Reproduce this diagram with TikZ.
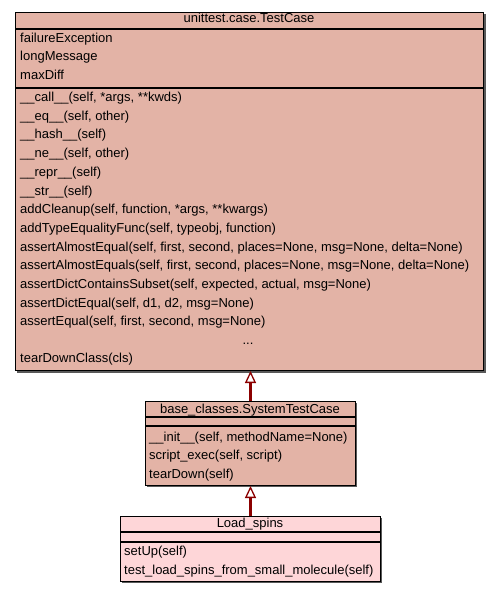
\documentclass[tikz,border=0pt]{standalone}
\usepackage{fontspec}
\setmainfont{Liberation Sans}
\usetikzlibrary{arrows.meta}
\definecolor{basefill}{RGB}{227,179,166}
\definecolor{leaffill}{RGB}{254,214,216}
\definecolor{edgered}{RGB}{139,0,0}
\tikzset{
  classbox/.style={draw=black, line width=1bp, minimum width=#1, inner sep=0, anchor=north west},
  shadowbox/.style={fill=black!65, draw=none},
  txt/.style={anchor=base west, inner sep=0, font=\fontsize{13bp}{15bp}\selectfont},
  ttl/.style={anchor=base, inner sep=0, font=\fontsize{13bp}{15bp}\selectfont},
  sep/.style={line width=1.2bp, black},
  inherit/.style={draw=edgered, line width=3bp, -{Triangle[open, length=12bp, width=11bp, line width=1.3bp, fill=white]}}
}
\begin{document}
\begin{tikzpicture}[x=1bp,y=-1bp]
\useasboundingbox (0,0) rectangle (499,592);
% shadows
\fill[shadowbox] (17,14) rectangle (486,373);
\fill[shadowbox] (147,403) rectangle (357,487);
\fill[shadowbox] (122,518) rectangle (382,583);
% boxes
\node[classbox=468bp, minimum height=358bp, fill=basefill] (tc) at (15,12) {};
\node[classbox=210bp, minimum height=84bp, fill=basefill] (stc) at (145,401) {};
\node[classbox=260bp, minimum height=65bp, fill=leaffill] (ls) at (120,516) {};
% separators
\draw[sep] (15,29) -- (483,29);
\draw[sep] (15,88) -- (483,88);
\draw[sep] (145,417) -- (355,417);
\draw[sep] (145,426) -- (355,426);
\draw[sep] (120,532) -- (380,532);
\draw[sep] (120,542) -- (380,542);
% TestCase texts
\node[ttl] (tct) at (249,22.5) {unittest.case.TestCase};
\node[txt] (a1) at (20,42.5) {failureException};
\node[txt] (a2) at (20,61) {longMessage};
\node[txt] (a3) at (20,79.5) {maxDiff};
\node[txt] (m1) at (20,101.5) {\_\_call\_\_(self, *args, **kwds)};
\node[txt] (m2) at (20,120.2) {\_\_eq\_\_(self, other)};
\node[txt] (m3) at (20,138.9) {\_\_hash\_\_(self)};
\node[txt] (m4) at (20,157.6) {\_\_ne\_\_(self, other)};
\node[txt] (m5) at (20,176.3) {\_\_repr\_\_(self)};
\node[txt] (m6) at (20,195.0) {\_\_str\_\_(self)};
\node[txt] (m7) at (20,213.7) {addCleanup(self, function, *args, **kwargs)};
\node[txt] (m8) at (20,232.4) {addTypeEqualityFunc(self, typeobj, function)};
\node[txt] (m9) at (20,251.1) {assertAlmostEqual(self, first, second, places=None, msg=None, delta=None)};
\node[txt] (m10) at (20,269.8) {assertAlmostEquals(self, first, second, places=None, msg=None, delta=None)};
\node[txt] (m11) at (20,288.5) {assertDictContainsSubset(self, expected, actual, msg=None)};
\node[txt] (m12) at (20,307.2) {assertDictEqual(self, d1, d2, msg=None)};
\node[txt] (m13) at (20,325.9) {assertEqual(self, first, second, msg=None)};
\node[ttl] (m14) at (248,344.2) {...};
\node[txt] (m15) at (20,362.5) {tearDownClass(cls)};
% SystemTestCase texts
\node[ttl] (stct) at (250,413) {base\_classes.SystemTestCase};
\node[txt] (s1) at (149,441) {\_\_init\_\_(self, methodName=None)};
\node[txt] (s2) at (149,459.5) {script\_exec(self, script)};
\node[txt] (s3) at (149,478) {tearDown(self)};
% Load_spins texts
\node[ttl] (lst) at (250,527.5) {Load\_spins};
\node[txt] (l1) at (124,555.5) {setUp(self)};
\node[txt] (l2) at (124,574) {test\_load\_spins\_from\_small\_molecule(self)};
% inheritance
\draw[inherit] (stc.north) -- (stc.north |- tc.south);
\draw[inherit] (ls.north) -- (ls.north |- stc.south);
\end{tikzpicture}
\end{document}
